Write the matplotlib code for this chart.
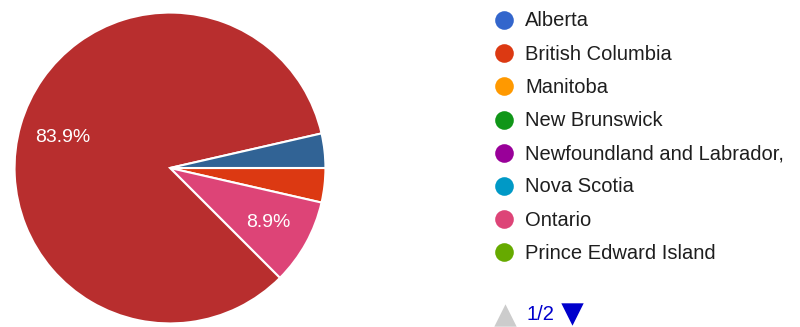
import matplotlib
matplotlib.use('Agg')
import matplotlib.pyplot as plt

plt.rcParams['font.family'] = ['Liberation Sans', 'DejaVu Sans']

provinces = ['Alberta', 'British Columbia', 'Manitoba', 'New Brunswick',
             'Newfoundland and Labrador,', 'Nova Scotia', 'Ontario',
             'Prince Edward Island', 'Quebec', 'Saskatchewan']
responses = [0, 2, 0, 0, 0, 0, 5, 0, 47, 2]
# Google Charts default palette, one per province
palette = ['#3366cc', '#dc3912', '#ff9900', '#109618', '#990099',
           '#0099c6', '#dd4477', '#66aa00', '#b82e2e', '#316395']
legend_page = provinces[:8]

W, H = 800, 327
fig = plt.figure(figsize=(W / 100, H / 100), dpi=100)
fig.patch.set_facecolor('white')

# pie area, sized in pixels
cx, cy, r = 170, 168, 157
ax = fig.add_axes([(cx - r) / W, (H - cy - r) / H, 2 * r / W, 2 * r / H])

shown = [(v, c) for v, c in zip(responses, palette) if v > 0]
vals = [v for v, _ in shown]
cols = [c for _, c in shown]


def pct_label(p):
    return f'{p:.1f}%' if p >= 5 else ''


wedges, _, autotexts = ax.pie(vals, colors=cols, startangle=0, counterclock=False,
                              autopct=pct_label, pctdistance=0.72, radius=1,
                              wedgeprops=dict(edgecolor='white', linewidth=1.5))
for t in autotexts:
    t.set_color('white')
    t.set_fontsize(14)
ax.set_xlim(-1.01, 1.01)
ax.set_ylim(-1.01, 1.01)
ax.set_aspect('equal')
ax.axis('off')

# legend column, page 1 of 2
lg = fig.add_axes([0, 0, 1, 1])
lg.set_xlim(0, W)
lg.set_ylim(H, 0)
lg.axis('off')
row_y0, row_step = 20, 33.2
for i, name in enumerate(legend_page):
    y = row_y0 + i * row_step
    lg.scatter([504], [y], s=180, color=palette[i], linewidths=0)
    lg.text(525, y + 1, name, fontsize=14.5, color='#1e1e1e', va='center', ha='left')

# pager
lg.scatter([505], [315], marker='^', s=260, color='#cccccc', linewidths=0)
lg.text(527, 315, '1/2', fontsize=14.5, color='#0000cc', va='center', ha='left')
lg.scatter([572], [314], marker='v', s=260, color='#0000cc', linewidths=0)

fig.savefig('out.png', dpi=100)
